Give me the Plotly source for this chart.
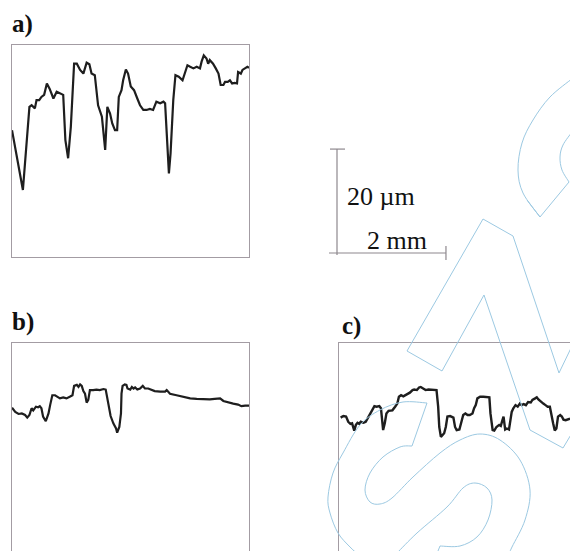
import plotly.graph_objects as go

# ---------------- data (x in mm, height in µm) ----------------
A_X = [0.00,0.20,0.32,0.36,0.42,0.45,0.50,0.54,0.59,0.64,0.69,0.76,0.82,0.88,0.94,0.98,1.03,1.08,1.14,1.19,
       1.25,1.31,1.37,1.42,1.46,1.52,1.58,1.65,1.71,1.75,1.80,1.84,1.89,1.93,1.96,2.01,2.04,2.09,2.13,2.18,
       2.24,2.30,2.35,2.41,2.47,2.53,2.59,2.65,2.72,2.78,2.81,2.84,2.88,2.91,2.96,3.00,3.06,3.13,3.19,3.22,
       3.27,3.33,3.39,3.45,3.48,3.52,3.57,3.60,3.63,3.69,3.74,3.79,3.83,3.88,3.91,3.96,4.00,4.04,4.09,4.13,
       4.15,4.20,4.23,4.28,4.32,4.35]
A_Z = [24.4,12.9,28.9,29.2,28.6,30.2,30.2,30.8,31.2,33.4,32.4,30.5,31.8,31.5,31.2,22.5,19.0,25.1,37.2,37.2,
       36.0,35.3,37.4,37.1,35.3,35.0,29.2,27.0,20.6,28.9,27.6,25.7,24.4,24.4,30.8,32.1,34.0,36.1,35.3,32.8,
       32.1,30.5,29.2,28.3,28.3,28.5,28.3,29.9,29.6,29.9,29.6,23.8,16.1,19.9,30.2,35.0,34.7,34.0,36.0,36.9,
       36.6,36.3,36.6,36.3,37.6,38.8,38.2,37.2,37.9,37.2,36.3,35.3,33.1,33.1,33.7,33.7,34.0,33.4,33.5,33.4,
       35.6,35.3,36.0,36.3,36.6,36.4]

B_X = [0.00,0.06,0.12,0.18,0.24,0.28,0.32,0.36,0.39,0.44,0.48,0.51,0.54,0.57,0.62,0.67,0.70,0.74,0.79,0.83,
       0.88,0.94,1.00,1.06,1.11,1.14,1.19,1.22,1.25,1.28,1.31,1.34,1.37,1.40,1.43,1.49,1.55,1.61,1.68,1.72,
       1.77,1.81,1.86,1.91,1.93,1.97,2.00,2.01,2.03,2.07,2.10,2.12,2.17,2.20,2.23,2.26,2.30,2.35,2.40,2.44,
       2.50,2.56,2.62,2.72,2.81,2.84,2.90,3.02,3.14,3.27,3.39,3.51,3.63,3.72,3.79,3.82,3.88,3.97,4.06,4.15,
       4.21,4.28,4.35]
B_Z = [28.4,27.6,27.2,27.3,27.0,26.5,27.0,28.3,27.9,28.6,28.5,28.7,28.3,26.7,25.8,27.3,28.9,30.8,30.8,30.5,
       30.2,30.4,30.2,30.5,30.8,32.6,32.8,32.4,32.9,32.6,31.6,31.1,29.4,29.9,31.8,31.8,31.9,31.8,32.0,31.9,
       28.9,26.8,25.4,24.4,23.6,24.7,27.3,31.1,32.6,32.9,32.8,32.1,31.9,32.4,32.1,32.3,31.9,32.1,32.6,32.1,
       32.1,31.8,31.6,31.5,31.5,31.8,31.1,30.8,30.5,30.2,30.1,30.0,30.0,30.1,30.2,30.2,29.7,29.4,29.2,29.0,
       28.7,28.8,28.8]

C_X = [0.03,0.08,0.13,0.17,0.21,0.24,0.28,0.31,0.34,0.37,0.40,0.45,0.49,0.52,0.57,0.61,0.65,0.69,0.74,0.77,
       0.78,0.81,0.84,0.87,0.91,0.95,0.98,1.03,1.07,1.10,1.14,1.18,1.22,1.26,1.30,1.35,1.38,1.43,1.47,1.50,
       1.55,1.59,1.64,1.70,1.76,1.79,1.82,1.84,1.87,1.90,1.93,1.96,1.99,2.04,2.07,2.10,2.13,2.16,2.21,2.25,
       2.28,2.32,2.36,2.40,2.45,2.48,2.51,2.54,2.59,2.65,2.71,2.76,2.78,2.82,2.85,2.89,2.94,2.97,3.00,3.02,
       3.05,3.08,3.12,3.15,3.17,3.20,3.24,3.28,3.32,3.35,3.39,3.43,3.47,3.52,3.55,3.60,3.63,3.66,3.69,3.72,
       3.75,3.79,3.83,3.87,3.90,3.93,3.96,3.99,4.02,4.06,4.09,4.12,4.16,4.21,4.24]
C_Z = [26.5,26.8,26.7,25.7,25.3,25.4,24.0,25.1,25.5,25.3,25.7,25.5,25.7,26.3,27.3,27.9,28.7,28.6,28.7,28.3,
       26.7,24.1,25.4,27.3,27.8,27.8,27.9,28.6,29.2,30.5,30.8,30.6,30.8,31.1,31.3,31.8,31.9,31.8,32.3,32.4,
       32.1,31.8,31.9,31.9,31.8,31.8,28.6,24.7,22.8,23.1,23.5,24.7,26.7,26.8,26.7,26.5,24.7,24.1,24.2,26.0,
       27.0,27.3,27.0,27.0,27.3,28.3,28.9,30.2,30.5,30.5,30.5,30.4,27.3,24.1,24.0,24.7,25.1,24.9,26.0,26.7,
       24.2,24.4,24.2,26.3,27.6,28.3,28.9,28.6,29.2,28.9,29.1,28.9,29.5,29.4,29.9,30.2,30.4,30.0,29.7,29.4,
       29.2,28.9,28.6,28.6,27.3,25.4,24.0,24.4,26.7,27.0,26.7,26.1,26.0,26.1,26.3]

PANEL_LABELS = ["a)", "b)", "c)"]
SCALE_Z_UM = 20
SCALE_X_MM = 2
SCALE_Z_TEXT = "20 µm"
SCALE_X_TEXT = "2 mm"

# ---------------- layout geometry ----------------
W, H = 570, 551
X_FULL = 4.35      # mm across a full panel
Z_FULL = 40.8      # µm over a full panel height
PANEL_W, PANEL_H = 237, 212
PX_MM = PANEL_W / X_FULL
PX_UM = PANEL_H / Z_FULL

def fx(px):   # page pixel -> paper
    return px / W

def fy(py):
    return 1 - py / H

BOX = "#a39ca3"
INK = "#1e1e1e"
SERIF = "Liberation Serif, Times New Roman, serif"

fig = go.Figure()
fig.add_trace(go.Scatter(x=A_X, y=A_Z, mode="lines", line=dict(color=INK, width=2.2), xaxis="x", yaxis="y",
                         showlegend=False, hoverinfo="skip"))
fig.add_trace(go.Scatter(x=B_X, y=B_Z, mode="lines", line=dict(color=INK, width=2.2), xaxis="x2", yaxis="y2",
                         showlegend=False, hoverinfo="skip"))
fig.add_trace(go.Scatter(x=C_X, y=C_Z, mode="lines", line=dict(color=INK, width=2.4), xaxis="x3", yaxis="y3",
                         showlegend=False, hoverinfo="skip"))

ax_common = dict(showgrid=False, zeroline=False, showticklabels=False, ticks="", linecolor=BOX, linewidth=1,
                 fixedrange=True)

top_a, left_ab = 45, 12
top_bc, left_c = 343.3, 339
z_low_bc = Z_FULL - (H - top_bc) / PX_UM

fig.update_layout(
    width=W, height=H, margin=dict(l=0, r=0, t=0, b=0),
    paper_bgcolor="white", plot_bgcolor="rgba(0,0,0,0)",
    xaxis=dict(domain=[fx(left_ab), fx(left_ab + PANEL_W)], range=[0, X_FULL], anchor="y",
               showline=True, mirror=True, **ax_common),
    yaxis=dict(domain=[fy(top_a + PANEL_H), fy(top_a)], range=[0, Z_FULL], anchor="x",
               showline=True, mirror=True, **ax_common),
    xaxis2=dict(domain=[fx(left_ab), fx(left_ab + PANEL_W)], range=[0, X_FULL], anchor="y2", side="top",
                showline=True, mirror=False, **ax_common),
    yaxis2=dict(domain=[0, fy(top_bc)], range=[z_low_bc, Z_FULL], anchor="x2",
                showline=True, mirror=True, **ax_common),
    xaxis3=dict(domain=[fx(left_c), 1], range=[0, (W - left_c) / PX_MM], anchor="y3", side="top",
                showline=True, mirror=False, **ax_common),
    yaxis3=dict(domain=[0, fy(top_bc)], range=[z_low_bc, Z_FULL], anchor="x3",
                showline=True, mirror=False, **ax_common),
)

# panel labels
for (px, py), lab in zip([(10, 24), (10, 322), (340, 326)], PANEL_LABELS):
    fig.add_annotation(x=fx(px), y=fy(py), xref="paper", yref="paper", text=f"<b>{lab}</b>", showarrow=False,
                       xanchor="left", yanchor="middle", font=dict(family=SERIF, size=25, color="#111"))

# scale bar (lengths derived from the panel scale)
sx0, sy0 = 337, 253
len_x = SCALE_X_MM * PX_MM
len_z = SCALE_Z_UM * PX_UM
SB = dict(color="#8e888e", width=1.2)
shapes = [
    dict(type="line", xref="paper", yref="paper", x0=fx(sx0), x1=fx(sx0), y0=fy(sy0 + 2), y1=fy(sy0 - len_z), line=SB),
    dict(type="line", xref="paper", yref="paper", x0=fx(sx0 - 7), x1=fx(sx0 + 8), y0=fy(sy0 - len_z), y1=fy(sy0 - len_z), line=SB),
    dict(type="line", xref="paper", yref="paper", x0=fx(sx0 - 8), x1=fx(sx0 + len_x), y0=fy(sy0), y1=fy(sy0), line=SB),
    dict(type="line", xref="paper", yref="paper", x0=fx(sx0 + len_x), x1=fx(sx0 + len_x), y0=fy(sy0 - 7), y1=fy(sy0 + 7), line=SB),
]
fig.add_annotation(x=fx(345), y=fy(196), xref="paper", yref="paper", text=SCALE_Z_TEXT, showarrow=False,
                   xanchor="left", yanchor="middle", font=dict(family=SERIF, size=26, color="#111"))
fig.add_annotation(x=fx(397), y=fy(241), xref="paper", yref="paper", text=SCALE_X_TEXT, showarrow=False,
                   xanchor="center", yanchor="middle", font=dict(family=SERIF, size=26, color="#111"))

# ---------------- watermark outlines (decoration, page-pixel space) ----------------
def pt(p):
    return f"{fx(p[0]):.5f},{fy(p[1]):.5f}"

def smooth(points, start=True):
    s = ("M " if start else "L ") + pt(points[0])
    for i in range(len(points) - 1):
        p0 = points[i - 1] if i > 0 else points[i]
        p1, p2 = points[i], points[i + 1]
        p3 = points[i + 2] if i + 2 < len(points) else points[i + 1]
        c1 = (p1[0] + (p2[0] - p0[0]) / 6, p1[1] + (p2[1] - p0[1]) / 6)
        c2 = (p2[0] - (p3[0] - p1[0]) / 6, p2[1] - (p3[1] - p1[1]) / 6)
        s += f" C {pt(c1)} {pt(c2)} {pt(p2)}"
    return s

def poly(points):
    return "M " + pt(points[0]) + "".join(" L " + pt(p) for p in points[1:])

WM = dict(color="#9cc9e2", width=1)
wm_paths = [
    smooth([(360, 556), (350, 547), (338, 533), (330, 513), (328, 497), (333, 473), (343, 453), (360, 425),
            (380, 410), (403, 402), (427, 403)]) + " L " + pt((412, 446)),
    smooth([(412, 446), (400, 447), (383, 457), (370, 473), (365, 490), (370, 502), (380, 504), (392, 498),
            (413, 477), (440, 453), (460, 440), (480, 434), (500, 440), (520, 460), (530, 490), (525, 520),
            (512, 547), (508, 556)]),
    smooth([(397, 553), (417, 533), (447, 507), (463, 488), (475, 483), (487, 488), (492, 500), (488, 520),
            (477, 537), (460, 546), (440, 546)]) + " L " + pt((436, 556)),
    poly([(572, 346), (559, 373), (513, 236), (483, 219), (407, 351), (442, 371), (484, 295), (530, 430),
          (563, 448), (572, 433)]),
    poly([(527, 200), (540, 217), (569, 182)]),
    smooth([(573, 78), (550, 97), (533, 120), (522, 143), (518, 170), (523, 193), (540, 217)]),
    smooth([(569, 182), (562, 170), (560, 157), (563, 145), (572, 132)]),
]
for p in wm_paths:
    shapes.append(dict(type="path", xref="paper", yref="paper", path=p, line=WM, layer="above"))

fig.update_layout(shapes=shapes)
fig.write_html(
    "out.html",
    config={"displayModeBar": False, "staticPlot": True},
    post_script="document.body.style.margin='0';document.documentElement.style.overflow='hidden';",
)
